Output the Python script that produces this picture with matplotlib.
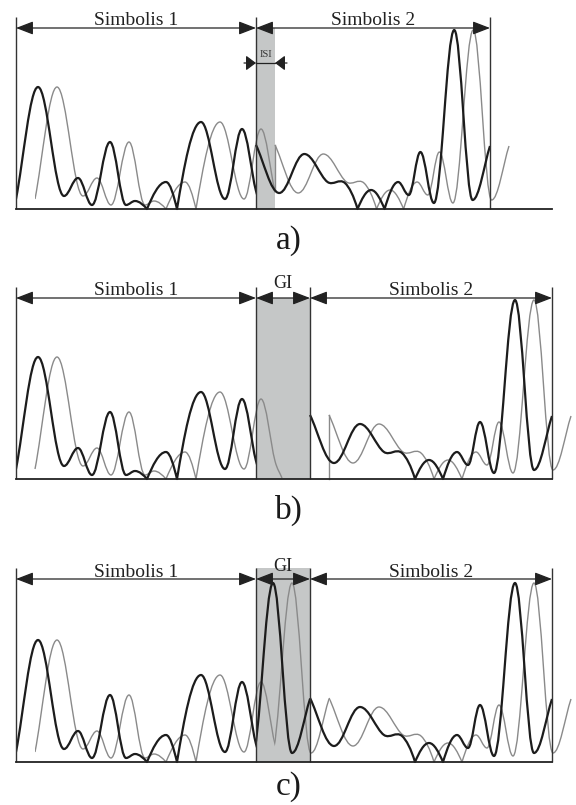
"""Symbol waveforms with a delayed echo: ISI without guard, empty GI, cyclic prefix GI."""

import matplotlib.pyplot as plt
import numpy as np
from matplotlib.patches import PathPatch, Rectangle
from matplotlib.path import Path


# waveform extrema: offset from symbol start (px) and height above baseline (px)
SYM1_X = [0, 22, 48, 62, 76, 94, 110, 119, 131, 150, 161, 185, 209, 226, 240, 247]
SYM1_H = [10, 122, 13, 31, 4, 67, 4, 8, 0, 27, 0, 87, 10, 80, 18, 1]
SYM2_X = [0, 24, 50, 74, 92, 105, 119, 133, 147, 158, 170, 184, 205, 224, 242]
SYM2_H = [64, 16, 55, 27, 26, 0, 19, 0, 27, 14, 57, 6, 179, 9, 63]
ECHO_DELAY = 19  # gray copy arrives later than the direct path

PANEL_LABELS = ["a)", "b)", "c)"]
SYMBOL_NAMES = ["Simbolis 1", "Simbolis 2"]
GUARD_NAME = "GI"
ISI_NAME = "ISI"

# layout in pixels of the 576x805 picture
PANELS = [
    dict(base=209, top=17, arrow=28, text=25, gi_text=None,
         edges=(16, 256, 256, 490), label_y=249, mode="isi"),
    dict(base=479, top=287, arrow=298, text=295, gi_text=288,
         edges=(16, 256, 310, 552), label_y=519, mode="empty"),
    dict(base=762, top=568, arrow=579, text=577, gi_text=571,
         edges=(16, 256, 310, 552), label_y=795, mode="cp"),
]
BASE_END = 552

BLACK = "#1c1c1c"
GRAY = "#8a8a8a"
FRAME = "#333333"
SHADE = "#c5c7c7"
FONT = "Liberation Serif"


def control(pts, hs, i, j):
    """Bezier handle leaving point i toward neighbour j."""
    x, y = pts[i]
    nx, ny = pts[j]
    dx = nx - x
    n = len(pts)
    if hs[i] == 0:
        return (x + 0.3 * dx, y + 0.5 * (ny - y))
    if i == 0 or i == n - 1:
        return (x + dx / 3, y + (ny - y) / 3)
    prev_h, next_h = hs[i - 1], hs[i + 1]
    if (hs[i] - prev_h) * (next_h - hs[i]) <= 0:
        return (x + 0.37 * dx, y)
    slope = (pts[i + 1][1] - pts[i - 1][1]) / (pts[i + 1][0] - pts[i - 1][0])
    return (x + dx / 3, y + slope * dx / 3)


def wave_path(xs, hs, base):
    pts = [(x, base - h) for x, h in zip(xs, hs)]
    verts = [pts[0]]
    codes = [Path.MOVETO]
    for i in range(len(pts) - 1):
        verts += [control(pts, hs, i, i + 1), control(pts, hs, i + 1, i), pts[i + 1]]
        codes += [Path.CURVE4] * 3
    return Path(verts, codes)


def draw_wave(ax, xs, hs, x0, base, scale=1.0, clip=None, color=BLACK, lw=1.6, z=3):
    pos = [x0 + scale * x for x in xs]
    patch = PathPatch(wave_path(pos, hs, base), fill=False, edgecolor=color,
                      linewidth=lw, zorder=z, capstyle="butt", joinstyle="round")
    ax.add_patch(patch)
    if clip is not None:
        box = Rectangle((clip[0], 0), clip[1] - clip[0], 805, transform=ax.transData)
        patch.set_clip_path(box)


def dim_arrow(ax, x0, x1, y):
    ax.annotate("", xy=(x1, y), xytext=(x0, y),
                arrowprops=dict(arrowstyle="<|-|>,head_length=0.7,head_width=0.27",
                                color="#222222", lw=0.9, shrinkA=0, shrinkB=0,
                                mutation_scale=15), zorder=5)


def main() -> None:
    fig = plt.figure(figsize=(5.76, 8.05), dpi=100)
    ax = fig.add_axes([0, 0, 1, 1])
    ax.set_xlim(0, 576)
    ax.set_ylim(805, 0)
    ax.axis("off")

    d = ECHO_DELAY
    cut = SYM1_X[-2]
    cut_h = np.interp(cut, SYM1_X, SYM1_H)
    s2_len = SYM2_X[-1]

    for panel, label in zip(PANELS, PANEL_LABELS):
        base = panel["base"]
        left, b1, b2, right = panel["edges"]
        s2 = (right - b2) / s2_len
        mode = panel["mode"]

        # shaded guard / ISI region
        if mode == "isi":
            ax.add_patch(Rectangle((b1, panel["arrow"]), d, base - panel["arrow"],
                                   facecolor=SHADE, edgecolor="none", zorder=1))
        elif mode == "empty":
            ax.add_patch(Rectangle((b1, panel["arrow"]), b2 - b1, base - panel["arrow"],
                                   facecolor=SHADE, edgecolor="none", zorder=1))
        else:
            ax.add_patch(Rectangle((b1, panel["top"]), b2 - b1, base - panel["top"],
                                   facecolor=SHADE, edgecolor="none", zorder=1))

        # delayed (gray) path
        draw_wave(ax, SYM1_X, SYM1_H, left + d, base,
                  clip=None if mode == "empty" else (left + d, b1 + d),
                  color=GRAY, lw=1.0, z=2)
        draw_wave(ax, SYM2_X, SYM2_H, b2 + d, base, scale=s2, color=GRAY, lw=1.0, z=2)
        if mode == "isi":
            ax.plot([b1 + d, b1 + d], [base - cut_h, base - SYM2_H[0]],
                    color=GRAY, lw=1.0, zorder=2)
        elif mode == "empty":
            ax.plot([b2 + d, b2 + d], [base, base - SYM2_H[0]],
                    color=GRAY, lw=1.0, zorder=2)
        else:
            draw_wave(ax, SYM2_X, SYM2_H, b2 - s2_len + d, base,
                      clip=(b1 + d, b2 + d), color=GRAY, lw=1.0, z=2)

        # direct (black) path
        draw_wave(ax, SYM1_X, SYM1_H, left, base, clip=(left, b1))
        draw_wave(ax, SYM2_X, SYM2_H, b2, base, scale=s2)
        if mode == "cp":
            draw_wave(ax, SYM2_X, SYM2_H, b2 - s2_len, base, clip=(b1, b2))

        # frame lines
        xs = [left, b1, right] if mode == "isi" else [left, b1, b2, right]
        ax.vlines(xs, panel["top"], base, color=FRAME, lw=1.0, zorder=4)
        ax.plot([left, BASE_END], [base, base], color="#222222", lw=1.3, zorder=4)

        # dimension arrows and labels
        y = panel["arrow"]
        dim_arrow(ax, left, b1, y)
        dim_arrow(ax, b2, right, y)
        if mode != "isi":
            dim_arrow(ax, b1, b2, y)
            ax.text((b1 + b2) / 2, panel["gi_text"], GUARD_NAME, ha="center",
                    va="baseline", fontsize=13, family=FONT, color="#222222")
        else:
            yi = 63
            ax.plot([b1, b1 + d], [yi, yi], color="#222222", lw=0.9, zorder=5)
            for start, end in [(b1 - 12, b1), (b1 + d + 12, b1 + d)]:
                ax.annotate("", xy=(end, yi), xytext=(start, yi),
                            arrowprops=dict(arrowstyle="-|>,head_length=0.6,head_width=0.45",
                                            color="#222222", lw=0.9, shrinkA=0,
                                            shrinkB=0, mutation_scale=10), zorder=5)
            ax.text(b1 + d / 2, 57, ISI_NAME, ha="center", va="baseline",
                    fontsize=7.5, family=FONT, color="#333333")

        ax.text((left + b1) / 2, panel["text"], SYMBOL_NAMES[0], ha="center",
                va="baseline", fontsize=14, family=FONT, color="#222222")
        ax.text((b2 + right) / 2, panel["text"], SYMBOL_NAMES[1], ha="center",
                va="baseline", fontsize=14, family=FONT, color="#222222")
        ax.text(289, panel["label_y"], label, ha="center", va="baseline",
                fontsize=24, family=FONT, color="#1a1a1a")

    fig.savefig("out.png", dpi=100, facecolor="white")
    plt.close(fig)


if __name__ == "__main__":
    main()
